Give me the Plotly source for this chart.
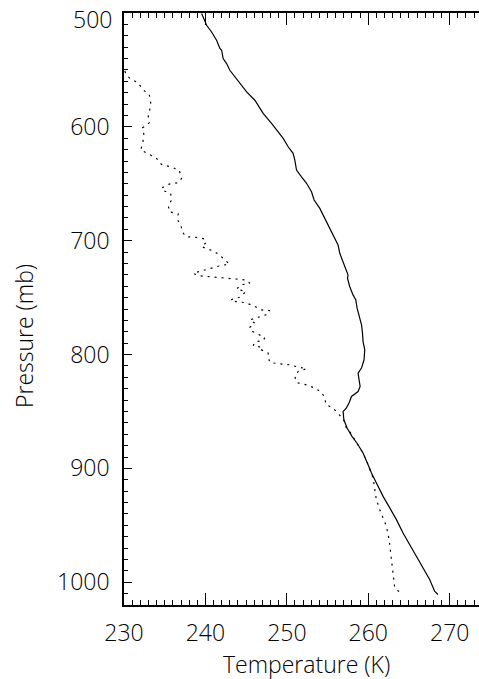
import plotly.graph_objects as go

# Sounding profile: pressure levels (mb) with temperature and dew point (K)
temp_pressure = [500.5, 506.4, 510.8, 516.7, 523.9, 531.2, 532.7, 540.0, 544.4, 550.3,
                 556.1, 561.9, 569.3, 576.6, 581.0, 588.2, 597.0, 602.9, 610.2, 617.5,
                 623.3, 629.2, 633.6, 638.0, 643.9, 649.6, 657.0, 664.3, 671.6, 680.4,
                 689.1, 697.9, 703.8, 711.1, 718.4, 725.7, 730.1, 733.0, 740.4, 747.6,
                 752.0, 759.3, 766.7, 774.0, 781.2, 788.6, 795.9, 804.6, 811.9, 816.3,
                 822.2, 828.1, 832.5, 836.8, 842.6, 847.0, 850.0, 857.3, 864.6, 871.9,
                 877.7, 886.5, 896.8, 904.0, 912.8, 924.6, 934.7, 945.0, 956.7, 967.0,
                 977.2, 987.4, 997.6, 1007.9, 1010.8]
temperature = [239.53, 239.94, 240.15, 240.76, 241.37, 241.78, 241.99, 242.18, 242.60, 243.00,
               243.62, 244.23, 245.06, 246.07, 246.48, 247.09, 248.12, 248.74, 249.55, 250.16,
               250.77, 250.98, 251.07, 251.19, 251.80, 252.42, 253.03, 253.35, 254.05, 254.66,
               255.28, 255.89, 256.29, 256.50, 256.91, 257.33, 257.52, 257.45, 257.73, 258.13,
               258.47, 258.63, 258.87, 259.17, 259.29, 259.36, 259.57, 259.48, 259.17, 258.75,
               258.87, 259.00, 258.75, 257.94, 257.64, 257.30, 256.91, 257.00, 257.40, 258.00,
               258.60, 259.36, 259.98, 260.39, 261.00, 261.82, 262.64, 263.46, 264.27, 265.09,
               265.91, 266.72, 267.54, 268.15, 268.56]

dew_pressure = [551.0, 554.6, 557.5, 561.4, 567.2, 571.6, 578.1, 583.9, 590.6, 596.5,
                600.9, 607.3, 614.6, 620.4, 624.0, 627.7, 633.0, 635.1, 638.0, 645.3,
                649.1, 650.3, 653.2, 655.5, 658.4, 664.3, 668.7, 674.6, 676.6, 681.3,
                686.2, 692.1, 696.5, 697.0, 698.5, 701.8, 705.3, 708.2, 711.7, 716.1,
                720.4, 722.2, 724.2, 726.3, 728.6, 730.7, 731.6, 732.5, 733.3, 733.9,
                734.5, 737.4, 738.9, 742.6, 744.7, 749.6, 752.0, 753.5, 754.4, 757.0,
                760.8, 761.4, 764.9, 767.2, 769.6, 772.5, 776.0, 778.9, 782.1, 785.1,
                787.7, 788.9, 792.4, 793.5, 795.9, 798.8, 802.3, 807.0, 808.2, 809.0,
                811.0, 812.5, 814.9, 819.3, 824.6, 826.6, 829.5, 833.0, 838.2, 844.0,
                847.0, 852.9, 857.3, 863.2, 867.5, 874.8, 886.5, 896.8, 908.4, 918.7,
                927.5, 936.2, 943.5, 950.9, 962.5, 974.2, 986.0, 997.6, 1004.9, 1008.8,
                1010.8]
dew_point = [230.10, 230.33, 230.74, 231.75, 232.29, 233.10, 233.28, 233.19, 232.98, 233.10,
             232.29, 232.45, 232.29, 232.05, 233.10, 234.00, 234.61, 235.72, 236.78, 237.07,
             236.65, 235.56, 234.75, 234.63, 235.73, 235.85, 235.44, 235.56, 236.66, 236.54,
             236.99, 237.15, 237.61, 238.83, 239.94, 240.06, 239.53, 240.64, 241.60, 242.31,
             242.93, 241.70, 240.64, 239.53, 238.50, 239.12, 240.34, 241.49, 242.68, 243.82,
             244.97, 245.46, 244.31, 243.82, 244.97, 244.23, 243.09, 243.74, 244.85, 245.87,
             246.89, 247.91, 247.50, 246.48, 245.46, 246.07, 245.46, 245.55, 246.48, 247.30,
             247.09, 246.07, 245.87, 247.01, 246.89, 247.71, 247.71, 247.91, 249.14, 250.37,
             251.39, 252.42, 251.39, 250.98, 251.19, 252.42, 253.44, 254.26, 254.66, 254.80,
             255.68, 256.50, 257.00, 257.20, 257.70, 258.34, 259.36, 259.98, 260.59, 260.80,
             261.00, 261.41, 261.82, 262.23, 262.56, 262.76, 262.97, 263.13, 263.25, 263.86,
             264.27]

x_ticks = [230, 240, 250, 260, 270]
y_ticks = [500, 600, 700, 800, 900, 1000]
x_title = "Temperature (K)"
y_title = "Pressure (mb)"

FONT = "Open Sans, DejaVu Sans, sans-serif"
TXT = dict(family=FONT, size=23, color="black", weight=300)

fig = go.Figure()
fig.add_trace(go.Scatter(x=temperature, y=temp_pressure, mode="lines",
                         line=dict(color="black", width=1.2), showlegend=False))
fig.add_trace(go.Scatter(x=dew_point, y=dew_pressure, mode="lines",
                         line=dict(color="black", width=1.2, dash="2px,5px"),
                         showlegend=False))

# The top pressure label sits just below the upper frame edge
y_labels = ["" if v == y_ticks[0] else str(v) for v in y_ticks]

fig.update_layout(
    width=479, height=679,
    margin=dict(l=124, r=0, t=13, b=74),
    paper_bgcolor="white", plot_bgcolor="white",
    font=TXT,
    xaxis=dict(range=[230, 273.6], tickvals=x_ticks,
               ticks="inside", ticklen=12, tickwidth=1, tickcolor="black",
               minor=dict(ticks="inside", ticklen=5, dtick=1, tick0=230,
                          tickwidth=1, tickcolor="black"),
               showline=True, linecolor="black", linewidth=1.6, mirror="allticks",
               showgrid=False, zeroline=False, ticklabelstandoff=7,
               tickfont=TXT),
    yaxis=dict(range=[1020, 500], tickvals=y_ticks, ticktext=y_labels,
               ticks="inside", ticklen=8, tickwidth=1, tickcolor="black",
               minor=dict(ticks="inside", ticklen=4, dtick=10, tick0=500,
                          tickwidth=1, tickcolor="black"),
               showline=True, linecolor="black", linewidth=1.6, mirror=False,
               showgrid=False, zeroline=False, ticklabelstandoff=8,
               tickfont=TXT),
    annotations=[
        dict(text=str(y_ticks[0]), xref="paper", yref="y", x=-10 / 355, y=y_ticks[0],
             xanchor="right", yanchor="middle", yshift=-6, showarrow=False, font=TXT),
        dict(text=x_title, xref="paper", yref="paper", x=(306 - 124) / 355,
             y=(605 - 664) / 592, xanchor="center", yanchor="middle",
             showarrow=False, font=TXT),
        dict(text=y_title, xref="paper", yref="paper", x=(24 - 124) / 355,
             y=(605 - 336) / 592, xanchor="center", yanchor="middle", textangle=-90,
             showarrow=False, font=TXT),
    ],
)

fig.write_html("out.html")
